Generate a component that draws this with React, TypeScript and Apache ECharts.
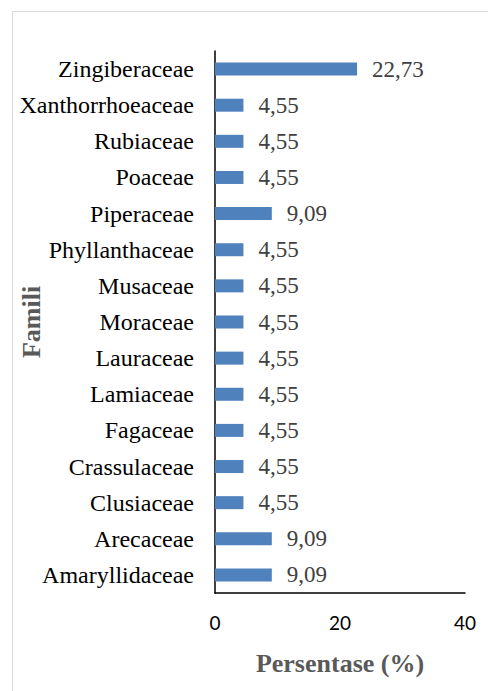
import React, { useEffect, useRef } from "react";
import * as echarts from "echarts";

const categories = [
  "Amaryllidaceae",
  "Arecaceae",
  "Clusiaceae",
  "Crassulaceae",
  "Fagaceae",
  "Lamiaceae",
  "Lauraceae",
  "Moraceae",
  "Musaceae",
  "Phyllanthaceae",
  "Piperaceae",
  "Poaceae",
  "Rubiaceae",
  "Xanthorrhoeaceae",
  "Zingiberaceae",
];
const values = [9.09, 9.09, 4.55, 4.55, 4.55, 4.55, 4.55, 4.55, 4.55, 4.55, 9.09, 4.55, 4.55, 4.55, 22.73];
const xTicks = [0, 20, 40];

const SERIF = "'Liberation Serif', 'Times New Roman', serif";
const SANS = "Lato, 'Open Sans', sans-serif";

export default function App() {
  const ref = useRef<HTMLDivElement>(null);
  useEffect(() => {
    if (!ref.current) return;
    const chart = echarts.init(ref.current, undefined, { renderer: "svg" });
    chart.setOption({
      animation: false,
      backgroundColor: "#ffffff",
      graphic: [
        {
          type: "rect",
          shape: { x: 12.5, y: 11.5, width: 520, height: 720 },
          style: { fill: "none", stroke: "#d9d9d9", lineWidth: 1 },
          silent: true,
        },
      ],
      grid: {
        left: 215,
        top: 51,
        right: 23,
        bottom: 98,
        containLabel: false,
        outerBoundsMode: "none",
      },
      xAxis: {
        type: "value",
        min: xTicks[0],
        max: xTicks[xTicks.length - 1],
        interval: 20,
        splitLine: { show: false },
        axisLine: { show: true, lineStyle: { color: "#000000", width: 1.5 } },
        axisTick: { show: false },
        axisLabel: {
          margin: 20,
          color: "#000000",
          fontFamily: SANS,
          fontSize: 19,
        },
        name: "Persentase (%)",
        nameLocation: "middle",
        nameGap: 57,
        nameMoveOverlap: false,
        nameTextStyle: {
          color: "#595959",
          fontFamily: SERIF,
          fontWeight: "bold",
          fontSize: 26,
        },
      },
      yAxis: {
        type: "category",
        data: categories,
        axisLine: { show: true, onZero: false, lineStyle: { color: "#000000", width: 1.5 } },
        axisTick: { show: false },
        splitLine: { show: false },
        axisLabel: {
          margin: 21,
          color: "#000000",
          fontFamily: SERIF,
          fontSize: 24,
        },
        name: "Famili",
        nameLocation: "middle",
        nameGap: 171,
        nameRotate: 90,
        nameMoveOverlap: false,
        nameTextStyle: {
          color: "#595959",
          fontFamily: SERIF,
          fontWeight: "bold",
          fontSize: 26,
        },
      },
      series: [
        {
          type: "bar",
          data: values,
          barWidth: 13,
          itemStyle: { color: "#4f81bd" },
          label: {
            show: true,
            position: "right",
            distance: 15,
            color: "#404040",
            fontFamily: SERIF,
            fontSize: 23,
            formatter: (p: any) => Number(p.value).toFixed(2).replace(".", ","),
          },
        },
      ],
    });
    return () => chart.dispose();
  }, []);
  return (
    <div
      ref={ref}
      style={{ position: "fixed", left: 0, top: 0, width: 488, height: 691 }}
    />
  );
}
